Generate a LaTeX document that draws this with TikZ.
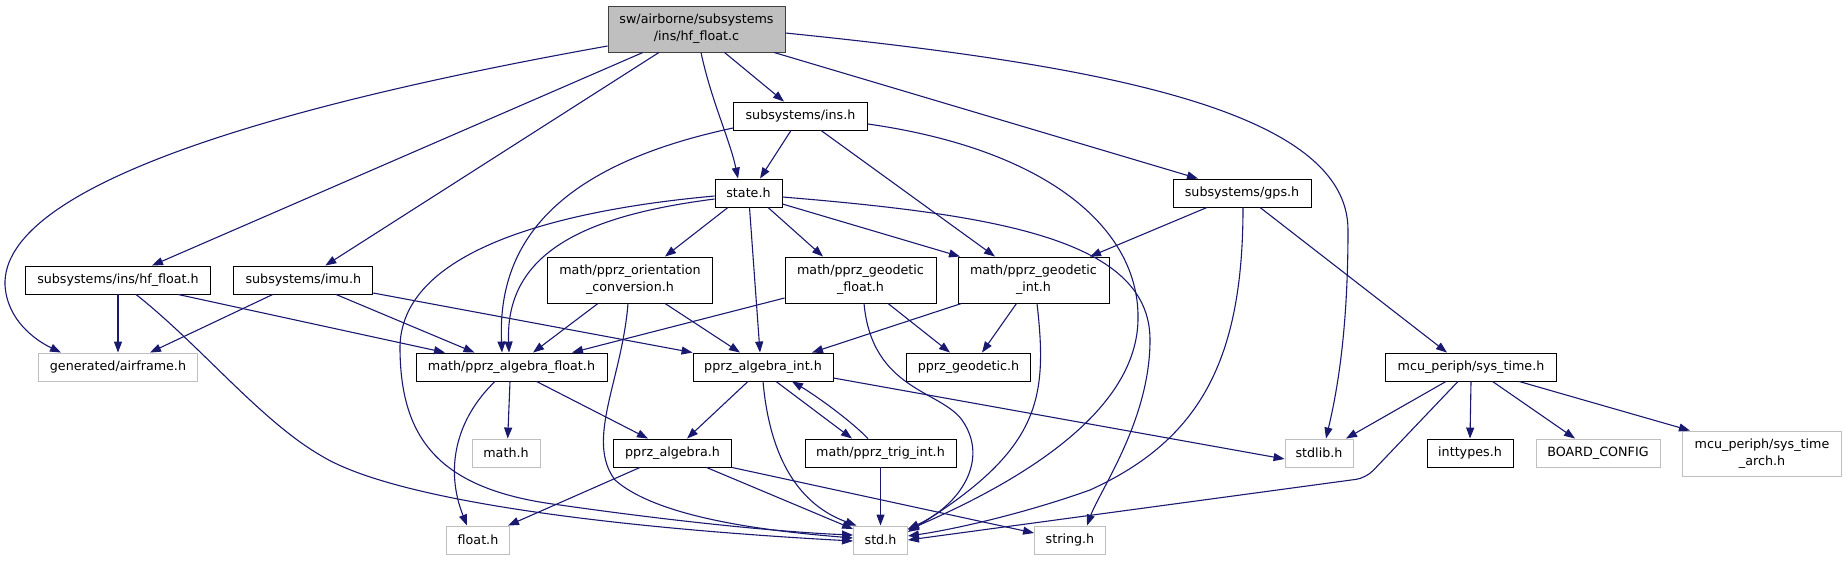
\documentclass[tikz,border=0pt]{standalone}
\usepackage{fontspec}
\setmainfont{DejaVu Sans}
\usepackage{tikz}
\usetikzlibrary{arrows.meta, positioning}
\definecolor{incblue}{RGB}{25,25,112}
\definecolor{missgray}{RGB}{191,191,191}
\tikzset{
  hdr/.style={rectangle, draw=black, line width=0.9pt, fill=white, inner sep=0pt,
              align=center, font=\fontsize{12.7}{17}\selectfont},
  % header that doxygen did not find
  hdrmiss/.style={hdr, draw=missgray},
  hdrroot/.style={hdr, fill=missgray, draw=black!75},
  inc/.style={draw=incblue, line width=1.1pt, -{Triangle[length=11pt, width=8pt]}}
}

\begin{document}
\begin{tikzpicture}[x=1pt,y=-1pt]
    \useasboundingbox (0,0) rectangle (1846,560);

    % ---- top rows ----
    \node[hdrroot, minimum width=177pt, minimum height=46pt] (root) at (696.5,29) {sw/airborne/subsystems\\/ins/hf\_float.c};
    \node[hdr, minimum width=134pt, minimum height=28pt] (ins) at (800.5,116) {subsystems/ins.h};
    \node[hdr, minimum width=67pt, minimum height=28pt] (state) at (748.5,193) {state.h};
    \node[hdr, minimum width=138pt, minimum height=28pt] (gps) at (1242,193) {subsystems/gps.h};

    \node[hdr, minimum width=185pt, minimum height=28pt] (hffloat) at (118,280) {subsystems/ins/hf\_float.h};
    \node[hdr, minimum width=139pt, minimum height=28pt] (imu) at (303.3,280) {subsystems/imu.h};
    \node[hdr, minimum width=165pt, minimum height=46pt] (orient) at (630,280) {math/pprz\_orientation\\\_conversion.h};
    \node[hdr, minimum width=151pt, minimum height=46pt] (geofloat) at (860.5,280) {math/pprz\_geodetic\\\_float.h};
    \node[hdr, minimum width=151pt, minimum height=46pt] (geoint) at (1033.5,280) {math/pprz\_geodetic\\\_int.h};

    % ---- middle rows ----
    \node[hdrmiss, minimum width=159pt, minimum height=28pt] (airframe) at (118,367) {generated/airframe.h};
    \node[hdr, minimum width=191pt, minimum height=28pt] (algfloat) at (511.5,367) {math/pprz\_algebra\_float.h};
    \node[hdr, minimum width=140pt, minimum height=28pt] (algint) at (763,367) {pprz\_algebra\_int.h};
    \node[hdr, minimum width=124pt, minimum height=28pt] (geodetic) at (968.5,367) {pprz\_geodetic.h};
    \node[hdr, minimum width=171pt, minimum height=28pt] (systime) at (1471,367) {mcu\_periph/sys\_time.h};

    \node[hdrmiss, minimum width=68pt, minimum height=28pt] (mathh) at (506,453) {math.h};
    \node[hdr, minimum width=118pt, minimum height=28pt] (pprzalg) at (672.5,453) {pprz\_algebra.h};
    \node[hdr, minimum width=151pt, minimum height=28pt] (trigint) at (880.5,453) {math/pprz\_trig\_int.h};
    \node[hdrmiss, minimum width=68pt, minimum height=28pt] (stdlib) at (1319,453) {stdlib.h};
    \node[hdr, minimum width=86pt, minimum height=28pt] (inttypes) at (1470,453) {inttypes.h};
    \node[hdrmiss, minimum width=124pt, minimum height=28pt] (boardcfg) at (1598,453) {BOARD\_CONFIG};
    \node[hdrmiss, minimum width=159pt, minimum height=45pt] (systimearch) at (1762,453.5) {mcu\_periph/sys\_time\\\_arch.h};

    % ---- bottom row ----
    \node[hdrmiss, minimum width=63pt, minimum height=28pt] (floath) at (478,540) {float.h};
    \node[hdrmiss, minimum width=54pt, minimum height=28pt] (stdh) at (880.5,540) {std.h};
    \node[hdrmiss, minimum width=71pt, minimum height=28pt] (stringh) at (1070,540) {string.h};

    % ---- includes of hf_float.c ----
    \draw[inc] ([yshift=-17pt]root.west) .. controls (250,110) and (2,190) .. (5,285)
               .. controls (7,320) and (35,340) .. ([xshift=-57pt]airframe.north);
    \draw[inc] ([xshift=-53.5pt]root.south) -- ([xshift=34pt]hffloat.north);
    \draw[inc] ([xshift=-37.5pt]root.south) -- ([xshift=22pt]imu.north);
    \draw[inc] ([xshift=4.5pt]root.south) .. controls (711,100) and (730,140) .. ([xshift=-10.5pt]state.north);
    \draw[inc] ([xshift=28pt]root.south) -- ([xshift=-16.5pt]ins.north);
    \draw[inc] ([xshift=77.5pt]root.south) -- ([xshift=-44pt]gps.north);
    \draw[inc] ([yshift=-4pt]root.east) .. controls (1100,65) and (1348,110) .. (1348,230)
               .. controls (1348,340) and (1335,400) .. ([xshift=7pt]stdlib.north);

    % ---- subsystems/ins.h ----
    \draw[inc] ([xshift=-9.5pt]ins.south) -- ([xshift=11.5pt]state.north);
    \draw[inc] ([yshift=-12pt]ins.west) .. controls (560,165) and (497,240) .. ([xshift=-9.5pt]algfloat.north);
    \draw[inc] ([xshift=20.5pt]ins.south) -- ([xshift=-38.5pt]geoint.north);
    \draw[inc] ([yshift=-8pt]ins.east) .. controls (1050,150) and (1140,230) .. (1138,320)
               .. controls (1136,420) and (1000,490) .. ([yshift=10pt]stdh.east);

    % ---- state.h ----
    \draw[inc] ([yshift=-6pt]state.west) .. controls (590,215) and (505,250) .. ([xshift=-2.5pt]algfloat.north);
    \draw[inc] ([yshift=-3pt]state.west) .. controls (560,210) and (398,250) .. (400,350)
               .. controls (401,440) and (440,490) .. (560,505)
               .. controls (700,525) and (800,533) .. ([yshift=5pt]stdh.west);
    \draw[inc] ([xshift=-20.5pt]state.south) -- ([xshift=35pt]orient.north);
    \draw[inc] ([xshift=1pt]state.south) -- ([xshift=-3pt]algint.north);
    \draw[inc] ([xshift=19.5pt]state.south) -- ([xshift=-37.5pt]geofloat.north);
    \draw[inc] ([yshift=-11pt]state.east) -- ([xshift=-73.5pt]geoint.north);
    \draw[inc] ([yshift=-4pt]state.east) .. controls (1000,215) and (1150,240) .. (1150,340)
               .. controls (1150,420) and (1100,490) .. ([xshift=17pt]stringh.north);

    % ---- second row ----
    \draw[inc] (hffloat.south) -- (airframe.north);
    \draw[inc] ([xshift=60pt]hffloat.south) -- ([xshift=-66.5pt]algfloat.north);
    \draw[inc] ([xshift=18pt]hffloat.south) .. controls (200,345) and (260,420) .. (320,455)
               .. controls (400,505) and (650,530) .. ([yshift=-1pt]stdh.west);
    \draw[inc] ([xshift=-30.5pt]imu.south) -- ([xshift=32pt]airframe.north);
    \draw[inc] ([xshift=32.7pt]imu.south) -- ([xshift=-37pt]algfloat.north);
    \draw[inc] ([yshift=-13pt]imu.east) -- (algint.north west);
    \draw[inc] ([xshift=-32pt]orient.south) -- ([xshift=21.5pt]algfloat.north);
    \draw[inc] ([xshift=35pt]orient.south) -- ([xshift=-23pt]algint.north);
    \draw[inc] ([xshift=-2pt]orient.south) .. controls (622,380) and (585,440) .. (615,480)
               .. controls (660,520) and (780,532) .. ([yshift=2pt]stdh.west);
    \draw[inc] ([yshift=-18pt]geofloat.west) -- ([xshift=60.5pt]algfloat.north);
    \draw[inc] ([xshift=27.5pt]geofloat.south) -- ([xshift=-18.5pt]geodetic.north);
    \draw[inc] ([xshift=3.5pt]geofloat.south) .. controls (872,390) and (940,390) .. (962,420)
               .. controls (990,460) and (960,505) .. ([yshift=11pt]stdh.east);
    \draw[inc] ([xshift=-72pt]geoint.south) -- ([xshift=49pt]algint.north);
    \draw[inc] ([xshift=-17pt]geoint.south) -- ([xshift=13.5pt]geodetic.north);
    \draw[inc] ([xshift=3.5pt]geoint.south) .. controls (1048,400) and (1040,450) .. ([yshift=8pt]stdh.east);

    % ---- subsystems/gps.h ----
    \draw[inc] ([xshift=-35pt]gps.south) -- ([xshift=56.5pt]geoint.north);
    \draw[inc] ([xshift=1pt]gps.south) .. controls (1243,360) and (1200,440) .. (1090,490)
               .. controls (1020,515) and (950,530) .. ([yshift=4pt]stdh.east);
    \draw[inc] ([xshift=18pt]gps.south) -- ([xshift=-24pt]systime.north);

    % ---- algebra headers ----
    \draw[inc] ([xshift=-1.5pt]algfloat.south) -- ([xshift=1.7pt]mathh.north);
    \draw[inc] ([xshift=-16.5pt]algfloat.south) .. controls (455,420) and (445,470) .. ([xshift=-11pt]floath.north);
    \draw[inc] ([xshift=25pt]algfloat.south) -- ([xshift=-24.5pt]pprzalg.north);
    \draw[inc] ([xshift=-15pt]algint.south) -- ([xshift=14.5pt]pprzalg.north);
    \draw[inc] (algint.south) .. controls (770,460) and (800,505) .. ([xshift=-24pt]stdh.north);
    \draw[inc] ([xshift=13pt]algint.south) -- ([xshift=-28.5pt]trigint.north);
    \draw[inc] ([xshift=-12.5pt]trigint.north) .. controls (850,420) and (815,395) .. ([xshift=29pt]algint.south);
    \draw[inc] ([yshift=-11pt]algint.east) -- ([yshift=-6pt]stdlib.west);
    \draw[inc] (trigint.south) -- (stdh.north);
    \draw[inc] ([xshift=-32.5pt]pprzalg.south) -- ([xshift=30pt]floath.north);
    \draw[inc] ([xshift=34pt]pprzalg.south) -- ([yshift=11pt]stdh.west);
    \draw[inc] (pprzalg.south east) -- ([yshift=7pt]stringh.west);

    % ---- mcu_periph/sys_time.h ----
    \draw[inc] ([xshift=-25pt]systime.south) -- ([xshift=27pt]stdlib.north);
    \draw[inc] (systime.south) -- (inttypes.north);
    \draw[inc] ([xshift=21.5pt]systime.south) -- ([xshift=-23pt]boardcfg.north);
    \draw[inc] ([xshift=48pt]systime.south) -- ([xshift=-72pt]systimearch.north);
    \draw[inc, rounded corners=10pt] ([xshift=-13pt]systime.south) -- (1366,478) -- (stdh.east);
\end{tikzpicture}
\end{document}
